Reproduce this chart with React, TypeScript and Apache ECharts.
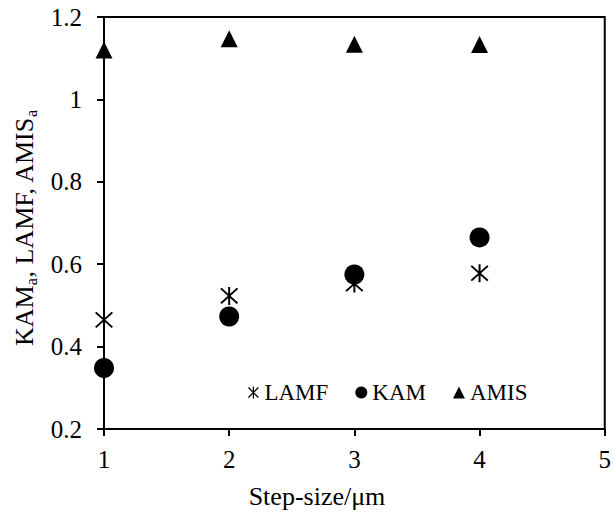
import React, { useEffect, useRef } from "react";
import * as echarts from "echarts";

const steps = [1, 2, 3, 4];
const lamf = [0.465, 0.523, 0.553, 0.578];
const kam = [0.348, 0.473, 0.575, 0.665];
const amis = [1.12, 1.147, 1.134, 1.133];
const seriesNames = ["LAMF", "KAM", "AMIS"];
const xTitle = "Step-size/\u03bcm";

const FONT = "Liberation Serif";
const ASTER =
  "path://M1,2.4L2.4,1L19,17.6L17.6,19Z M2.4,19L1,17.6L17.6,1L19,2.4Z M9,0L11,0L11,20L9,20Z";

export default function App() {
  const ref = useRef<HTMLDivElement>(null);
  useEffect(() => {
    if (!ref.current) return;
    const chart = echarts.init(ref.current, undefined, { renderer: "svg" });
    const pts = (vals: number[]) => steps.map((s, i) => [s, vals[i]]);
    const labRich = { v: { fontFamily: FONT, fontSize: 25, color: "#000" } };
    chart.setOption({
      animation: false,
      backgroundColor: "#fff",
      textStyle: { fontFamily: FONT },
      grid: {
        left: 104,
        top: 17,
        right: 8,
        bottom: 84,
        show: true,
        borderColor: "#000",
        borderWidth: 2,
      },
      xAxis: {
        type: "value",
        min: 1,
        max: 5,
        interval: 1,
        axisLine: { onZero: false, lineStyle: { color: "#000", width: 2 } },
        axisTick: { show: true, length: 7, inside: false, lineStyle: { color: "#000", width: 2 } },
        axisLabel: {
          color: "#000",
          fontFamily: FONT,
          fontSize: 25,
          margin: 18,
          formatter: (v: number) => `{v|${v}}`,
          rich: labRich,
        },
        splitLine: { show: false },
      },
      yAxis: {
        type: "value",
        min: 0.2,
        max: 1.2,
        interval: 0.2,
        axisLine: { onZero: false, lineStyle: { color: "#000", width: 2 } },
        axisTick: { show: true, length: 7, lineStyle: { color: "#000", width: 2 } },
        axisLabel: {
          color: "#000",
          fontFamily: FONT,
          fontSize: 25,
          margin: 22,
          formatter: (v: number) => `{v|${Math.round(v * 10) / 10}}`,
          rich: labRich,
        },
        splitLine: { show: false },
      },
      legend: {
        left: 243,
        top: 376,
        itemWidth: 12,
        itemHeight: 12,
        itemGap: 27,
        formatter: (name: string) => `{t|${name}}`,
        textStyle: {
          color: "#000",
          fontFamily: FONT,
          fontSize: 23,
          rich: { t: { fontFamily: FONT, fontSize: 23, color: "#000" } },
        },
        data: [
          { name: seriesNames[0], icon: ASTER },
          { name: seriesNames[1], icon: "circle" },
          { name: seriesNames[2], icon: "triangle" },
        ],
      },
      graphic: [
        {
          type: "text",
          x: 317,
          y: 496,
          style: {
            text: xTitle,
            fill: "#000",
            font: `26px ${FONT}`,
            align: "center",
            verticalAlign: "middle",
          },
        },
        {
          type: "text",
          x: 24,
          y: 228,
          rotation: Math.PI / 2,
          style: {
            text: "{n|KAM}{s|a}{n|, LAMF, AMIS}{s|a}",
            align: "center",
            verticalAlign: "middle",
            rich: {
              n: { fontFamily: FONT, fontSize: 26, lineHeight: 30, fill: "#000", verticalAlign: "middle" },
              s: { fontFamily: FONT, fontSize: 16, lineHeight: 16, fill: "#000", padding: [14, 0, 0, 0], verticalAlign: "middle" },
            },
          },
        },
      ],
      series: [
        {
          name: seriesNames[0],
          type: "scatter",
          symbol: ASTER,
          symbolSize: 18,
          itemStyle: { color: "#000", opacity: 1 },
          data: pts(lamf),
        },
        {
          name: seriesNames[1],
          type: "scatter",
          symbol: "circle",
          symbolSize: 20,
          itemStyle: { color: "#000", opacity: 1 },
          data: pts(kam),
        },
        {
          name: seriesNames[2],
          type: "scatter",
          symbol: "triangle",
          symbolSize: 17,
          itemStyle: { color: "#000", opacity: 1 },
          data: pts(amis),
        },
      ],
    });
    return () => chart.dispose();
  }, []);
  return (
    <div
      ref={ref}
      style={{ position: "fixed", left: 0, top: 0, width: 614, height: 513 }}
    />
  );
}
